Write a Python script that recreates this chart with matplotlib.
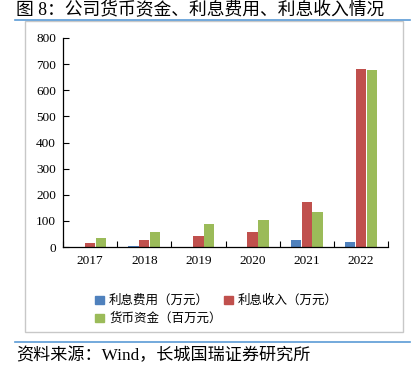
import matplotlib
matplotlib.use('Agg')
import matplotlib.pyplot as plt
import matplotlib.patches as mpatches
from matplotlib.lines import Line2D
import numpy as np

plt.rcParams['font.family'] = ['Liberation Serif', 'Noto Sans CJK SC']

years = ['2017', '2018', '2019', '2020', '2021', '2022']
interest_cost = [0, 5, 0, 0, 28, 18]          # 利息费用（万元）
interest_income = [16, 28, 42, 56, 173, 683]  # 利息收入（万元）
cash = [34, 57, 89, 102, 135, 678]            # 货币资金（百万元）

labels = ['利息费用（万元）', '利息收入（万元）', '货币资金（百万元）']
colors = ['#4F81BD', '#C0504D', '#9BBB59']

W, H = 413, 365
fig = plt.figure(figsize=(W / 100, H / 100), dpi=100)

def fx(px):
    return px / W

def fy(py):
    return 1 - py / H

# axes area in pixels
left, right, top, bottom = 63, 388, 38, 247
ax = fig.add_axes([fx(left), fy(bottom), fx(right - left), (bottom - top) / H])

idx = np.arange(len(years))
w = 0.19
ax.bar(idx - 0.2, interest_cost, w, color=colors[0])
ax.bar(idx, interest_income, w, color=colors[1])
ax.bar(idx + 0.2, cash, w, color=colors[2])

ax.set_xlim(-0.5, len(years) - 0.5)
ax.set_ylim(0, 800)
ax.set_yticks(range(0, 801, 100))
ax.set_xticks(idx)
ax.set_xticklabels(years)
ax.set_xticks(np.arange(-0.5, len(years), 1), minor=True)
ax.tick_params(axis='x', which='major', length=0, labelsize=9.5, pad=6)
ax.tick_params(axis='x', which='minor', direction='in', length=4, width=0.8)
ax.tick_params(axis='y', direction='in', length=4, width=0.8, labelsize=9.5, pad=5)
for s in ['top', 'right']:
    ax.spines[s].set_visible(False)
for s in ['left', 'bottom']:
    ax.spines[s].set_linewidth(0.9)

# legend (column-major fill: blue, green | red)
order = [0, 2, 1]
handles = [mpatches.Patch(color=colors[i]) for i in order]
fig.legend(handles, [labels[i] for i in order], loc='upper left',
           bbox_to_anchor=(fx(84), fy(283)),
           ncol=2, frameon=False, handlelength=0.7, handleheight=0.7,
           handletextpad=0.4, columnspacing=0.2, labelspacing=0.4,
           prop={'family': 'Noto Sans CJK SC', 'size': 9})

# outer frame and rules
fig.add_artist(mpatches.Rectangle((fx(25), fy(332)), fx(403 - 25), (332 - 21) / H,
                                  fill=False, edgecolor='#C8C8C8', linewidth=1.0))
fig.add_artist(Line2D([fx(15), fx(410)], [fy(20), fy(20)], color='#5B9BD5', linewidth=1.2))
fig.add_artist(Line2D([fx(15), fx(410)], [fy(342), fy(342)], color='#5B9BD5', linewidth=1.2))

fig.text(fx(16), fy(11), '图 8：公司货币资金、利息费用、利息收入情况', fontsize=12.8,
         va='center', ha='left', family=['Liberation Serif', 'Noto Sans CJK SC'])
fig.text(fx(16), fy(356), '资料来源：Wind，长城国瑞证券研究所', fontsize=12.3,
         va='center', ha='left', family=['Liberation Serif', 'Noto Sans CJK SC'])

fig.savefig('out.png', dpi=100)
